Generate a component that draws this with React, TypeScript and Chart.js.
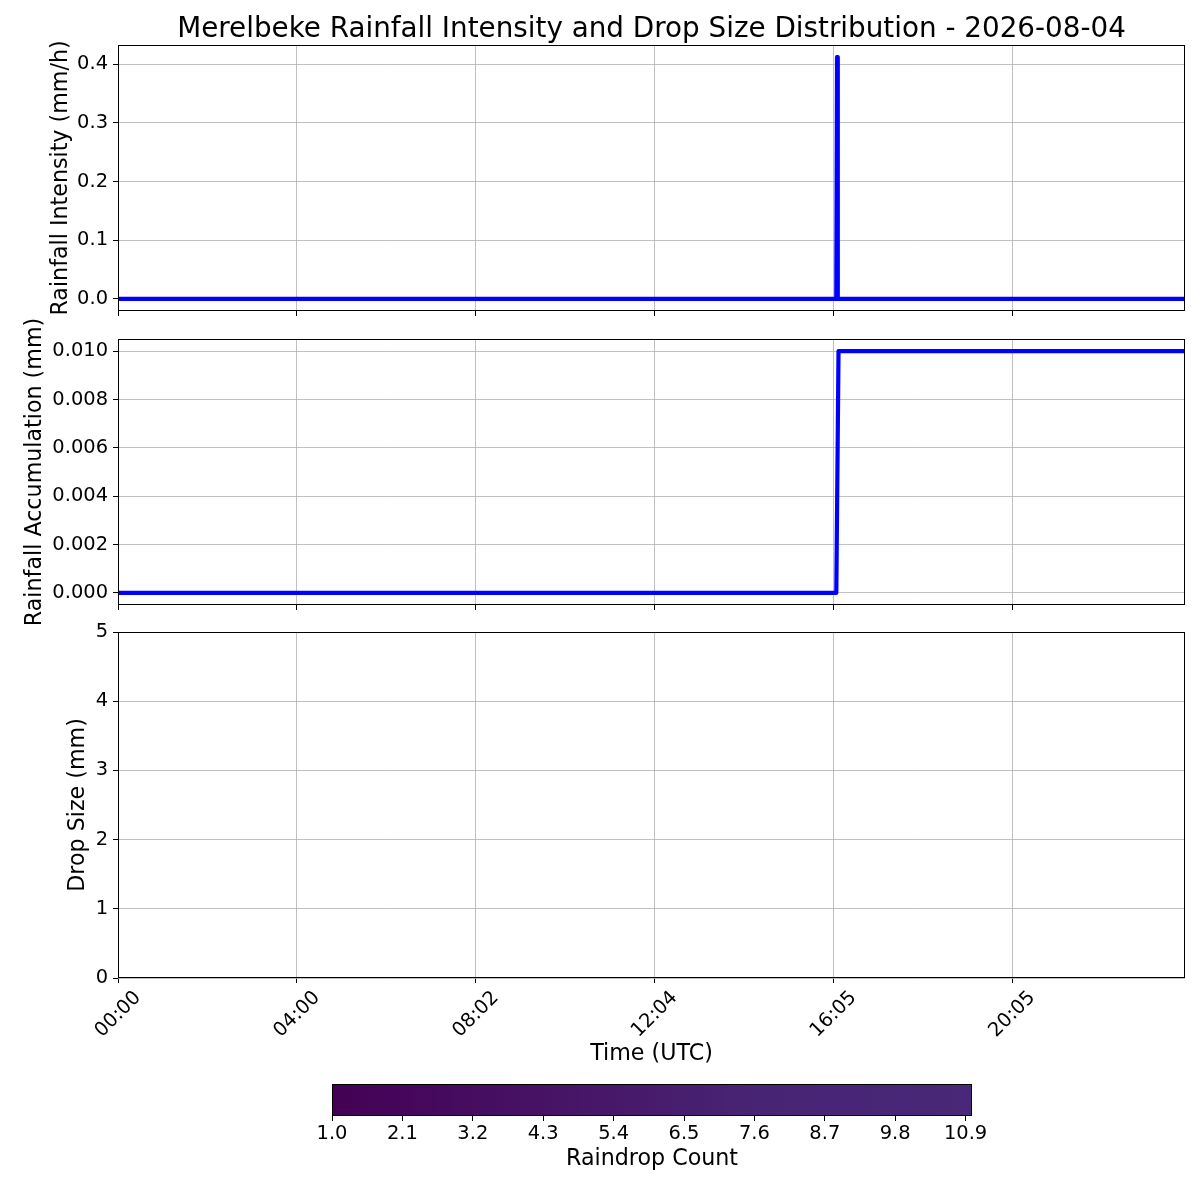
import React, { useEffect, useRef } from "react";
import { Chart, registerables } from "chart.js";

Chart.register(...registerables);

// ---------- data ----------
const figureTitle = "Merelbeke Rainfall Intensity and Drop Size Distribution - 2026-08-04";
const sampleMax = 1432;
const timeTickPositions = [0, 240, 480, 720, 960, 1200];
const timeTickLabels = ["00:00", "04:00", "08:02", "12:04", "16:05", "20:05"];

const intensitySamples = [0, 964, 965, 966, 1432];
const intensityValues = [0, 0, 0.412, 0, 0];

const accumulationSamples = [0, 964, 967, 1432];
const accumulationValues = [0, 0, 0.01, 0.01];

const dropSizeSamples: number[] = [];
const dropSizeValues: number[] = [];

const intensityTicks = [0, 0.1, 0.2, 0.3, 0.4];
const accumulationTicks = [0, 0.002, 0.004, 0.006, 0.008, 0.01];
const dropSizeTicks = [0, 1, 2, 3, 4, 5];

const colorbarTicks = [1.0, 2.1, 3.2, 4.3, 5.4, 6.5, 7.6, 8.7, 9.8, 10.9];
const colorbarMin = 1.0;
const colorbarMax = 11.0;
const colorbarColors = ["#440154", "#471365", "#482475", "#482878"];

// ---------- styling ----------
const FONT = "'DejaVu Sans', sans-serif";
const TICK_FS = 19.44;
const LABEL_FS = 22.2;
const TITLE_FS = 27.8;
const AXIS_LEFT = 118;
const AXIS_RIGHT_PAD = 15;

const gridOpts = {
  color: "#b0b0b0",
  lineWidth: 0.8,
  tickColor: "#000",
  tickWidth: 1,
  tickLength: 5,
};

const framePlugin = {
  id: "frame",
  afterDraw(chart: any) {
    const { ctx, chartArea: a } = chart;
    ctx.save();
    ctx.strokeStyle = "#000";
    ctx.lineWidth = 1;
    ctx.strokeRect(Math.round(a.left) + 0.5, Math.round(a.top) + 0.5, Math.round(a.right - a.left) - 1, Math.round(a.bottom - a.top) - 1);
    ctx.restore();
  },
};

const figTitlePlugin = {
  id: "figTitle",
  afterDraw(chart: any) {
    const { ctx, chartArea: a } = chart;
    ctx.save();
    ctx.font = `${TITLE_FS}px ${FONT}`;
    ctx.fillStyle = "#000";
    ctx.textAlign = "center";
    ctx.textBaseline = "alphabetic";
    ctx.fillText(figureTitle, (a.left + a.right) / 2, 37);
    ctx.restore();
  },
};

const rotatedTimeLabelsPlugin = {
  id: "rotLabels",
  afterDraw(chart: any) {
    const { ctx, chartArea: a } = chart;
    const scale = chart.scales.x;
    ctx.save();
    ctx.font = `${TICK_FS}px ${FONT}`;
    ctx.fillStyle = "#000";
    ctx.textAlign = "center";
    ctx.textBaseline = "alphabetic";
    timeTickPositions.forEach((v, i) => {
      const label = timeTickLabels[i];
      const x = scale.getPixelForValue(v);
      const w = ctx.measureText(label).width;
      const h = 0.97 * TICK_FS;
      const bboxH = (w + h) * Math.SQRT1_2;
      const cy = a.bottom + 9.72 + bboxH / 2;
      ctx.save();
      ctx.translate(x, cy);
      ctx.rotate(-Math.PI / 4);
      ctx.fillText(label, 0, 0.276 * TICK_FS);
      ctx.restore();
    });
    ctx.restore();
  },
};

const colorbarPlugin = {
  id: "colorbarFill",
  beforeDatasetsDraw(chart: any) {
    const { ctx, chartArea: a } = chart;
    const g = ctx.createLinearGradient(a.left, 0, a.right, 0);
    colorbarColors.forEach((c, i) => g.addColorStop(i / (colorbarColors.length - 1), c));
    ctx.save();
    ctx.fillStyle = g;
    ctx.fillRect(a.left, a.top, a.right - a.left, a.bottom - a.top);
    ctx.restore();
  },
};

function xTimeScale(showTitle: boolean, height: number) {
  return {
    type: "linear",
    min: 0,
    max: sampleMax,
    afterBuildTicks: (s: any) => {
      s.ticks = timeTickPositions.map((v) => ({ value: v }));
    },
    afterFit: (s: any) => {
      s.height = height;
    },
    ticks: { display: false },
    grid: gridOpts,
    border: { display: false },
    title: {
      display: showTitle,
      text: "Time (UTC)",
      font: { size: LABEL_FS, family: FONT },
      color: "#000",
      padding: 0,
    },
  };
}

function yScale(min: number, max: number, ticks: number[], digits: number, title: string, padLeft: number) {
  return {
    type: "linear",
    min,
    max,
    afterBuildTicks: (s: any) => {
      s.ticks = ticks.map((v) => ({ value: v }));
    },
    afterFit: (s: any) => {
      s.width = AXIS_LEFT - padLeft;
    },
    ticks: {
      callback: (v: any) => Number(v).toFixed(digits),
      font: { size: TICK_FS, family: FONT },
      color: "#000",
      padding: 5,
      autoSkip: false,
    },
    grid: gridOpts,
    border: { display: false },
    title: {
      display: true,
      text: title,
      font: { size: LABEL_FS, family: FONT },
      color: "#000",
      padding: 0,
    },
  };
}

function lineDataset(xs: number[], ys: number[]) {
  return {
    data: xs.map((x, i) => ({ x, y: ys[i] })),
    borderColor: "#0000ff",
    backgroundColor: "#0000ff",
    borderWidth: 4.2,
    pointRadius: 0,
    tension: 0,
    fill: false,
    showLine: true,
    borderJoinStyle: "round",
    borderCapStyle: "butt",
  };
}

const commonOpts = {
  responsive: false,
  animation: false,
  events: [],
  plugins: { legend: { display: false }, tooltip: { enabled: false }, title: { display: false } },
};

export default function App() {
  const aRef = useRef<HTMLCanvasElement>(null);
  const bRef = useRef<HTMLCanvasElement>(null);
  const cRef = useRef<HTMLCanvasElement>(null);
  const dRef = useRef<HTMLCanvasElement>(null);

  useEffect(() => {
    Chart.defaults.font.family = FONT;
    Chart.defaults.color = "#000";

    // canvas A: y 0..330, chart area 45..311
    const chartA = new Chart(aRef.current as HTMLCanvasElement, {
      type: "line",
      data: { datasets: [lineDataset(intensitySamples, intensityValues)] as any },
      options: {
        ...commonOpts,
        layout: { padding: { top: 45, left: 47.6, right: AXIS_RIGHT_PAD, bottom: 14 } },
        scales: {
          x: xTimeScale(false, 5),
          y: yScale(-0.0206, 0.4326, intensityTicks, 1, "Rainfall Intensity (mm/h)", 47.6),
        },
      } as any,
      plugins: [framePlugin, figTitlePlugin],
    });

    // canvas B: y 300..640, chart area 339..605
    const chartB = new Chart(bRef.current as HTMLCanvasElement, {
      type: "line",
      data: { datasets: [lineDataset(accumulationSamples, accumulationValues)] as any },
      options: {
        ...commonOpts,
        layout: { padding: { top: 39, left: 21.7, right: AXIS_RIGHT_PAD, bottom: 30 } },
        scales: {
          x: xTimeScale(false, 5),
          y: yScale(-0.0005, 0.0105, accumulationTicks, 3, "Rainfall Accumulation (mm)", 21.7),
        },
      } as any,
      plugins: [framePlugin],
    });

    // canvas C: y 600..1070, chart area 632..978
    const chartC = new Chart(cRef.current as HTMLCanvasElement, {
      type: "scatter",
      data: { datasets: [lineDataset(dropSizeSamples, dropSizeValues)] as any },
      options: {
        ...commonOpts,
        layout: { padding: { top: 32, left: 65, right: AXIS_RIGHT_PAD, bottom: 2 } },
        scales: {
          x: xTimeScale(true, 90),
          y: yScale(0, 5, dropSizeTicks, 0, "Drop Size (mm)", 65),
        },
      } as any,
      plugins: [framePlugin, rotatedTimeLabelsPlugin],
    });

    // canvas D: y 1070..1200, colorbar 1084..1116
    const chartD = new Chart(dRef.current as HTMLCanvasElement, {
      type: "scatter",
      data: { datasets: [] },
      options: {
        ...commonOpts,
        layout: { padding: { top: 14, left: 332, right: 228, bottom: 27.7 } },
        scales: {
          x: {
            type: "linear",
            min: colorbarMin,
            max: colorbarMax,
            afterBuildTicks: (s: any) => {
              s.ticks = colorbarTicks.map((v) => ({ value: v }));
            },
            afterFit: (s: any) => {
              s.height = 56.3;
            },
            ticks: {
              callback: (v: any) => Number(v).toFixed(1),
              font: { size: TICK_FS, family: FONT },
              color: "#000",
              padding: 1.1,
              maxRotation: 0,
              minRotation: 0,
              autoSkip: false,
            },
            grid: { ...gridOpts, drawOnChartArea: false },
            border: { display: false },
            title: {
              display: true,
              text: "Raindrop Count",
              font: { size: LABEL_FS, family: FONT },
              color: "#000",
              padding: 0,
            },
          },
          y: { type: "linear", display: false, min: 0, max: 1 },
        },
      } as any,
      plugins: [colorbarPlugin, framePlugin],
    });

    return () => {
      chartA.destroy();
      chartB.destroy();
      chartC.destroy();
      chartD.destroy();
    };
  }, []);

  const cs = (top: number): React.CSSProperties => ({ position: "absolute", left: 0, top, display: "block" });

  return (
    <div style={{ position: "absolute", left: 0, top: 0, width: 1200, height: 1200, background: "#fff" }}>
      <canvas ref={aRef} width={1200} height={330} style={cs(0)} />
      <canvas ref={bRef} width={1200} height={340} style={cs(300)} />
      <canvas ref={cRef} width={1200} height={470} style={cs(600)} />
      <canvas ref={dRef} width={1200} height={130} style={cs(1070)} />
    </div>
  );
}
